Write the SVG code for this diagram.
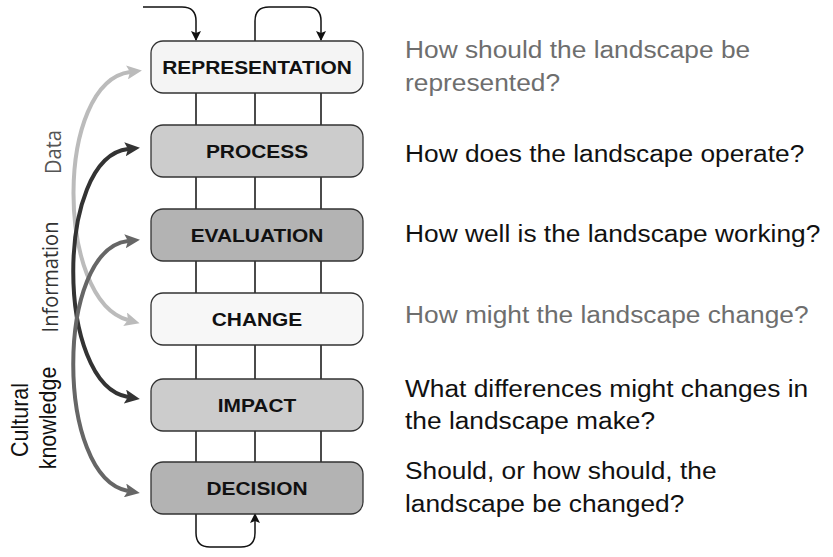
<svg xmlns="http://www.w3.org/2000/svg" width="833" height="557" viewBox="0 0 833 557">
<style>
.box{stroke:#333;stroke-width:1.3}
.bl{font-family:"Liberation Sans",Arial,sans-serif;font-weight:bold;font-size:19px;fill:#111;text-anchor:middle}
.q{font-family:"Liberation Sans",Arial,sans-serif;font-size:23.5px}
.dk{fill:#111}
.gy{fill:#6e6e6e}
.side{font-family:"Open Sans",sans-serif;font-size:20px;text-anchor:middle}
.cult{font-family:"Liberation Sans",Arial,sans-serif;font-size:21.5px;fill:#111;text-anchor:middle}
.link{fill:none;stroke:#111;stroke-width:1.5}
.curve{fill:none;stroke-width:4}
</style>
<defs>
<marker id="blk" markerUnits="userSpaceOnUse" markerWidth="10" markerHeight="11" refX="9" refY="5" orient="auto">
<path d="M0,0 L10,5 L0,10 L2,5 z" fill="#111"/>
</marker>
<marker id="aLight" markerUnits="userSpaceOnUse" markerWidth="16" markerHeight="14" refX="3" refY="7" orient="auto-start-reverse">
<path d="M0,0 L15,7 L0,14 L3,7 z" fill="#bbb"/>
</marker>
<marker id="aDark" markerUnits="userSpaceOnUse" markerWidth="16" markerHeight="14" refX="3" refY="7" orient="auto-start-reverse">
<path d="M0,0 L15,7 L0,14 L3,7 z" fill="#333"/>
</marker>
<marker id="aMid" markerUnits="userSpaceOnUse" markerWidth="16" markerHeight="14" refX="3" refY="7" orient="auto-start-reverse">
<path d="M0,0 L15,7 L0,14 L3,7 z" fill="#666"/>
</marker>
</defs>
<g id="connectors">
<path class="link" d="M196,93 V125 M255,93 V125 M321,93 V125"/>
<path class="link" d="M196,177 V209 M255,177 V209 M321,177 V209"/>
<path class="link" d="M196,261 V293 M255,261 V293 M321,261 V293"/>
<path class="link" d="M196,345 V379 M255,345 V379 M321,345 V379"/>
<path class="link" d="M196,431 V462 M255,431 V462 M321,431 V462"/>
<path class="link" d="M143,7 H182 Q196,7 196,21 V40" marker-end="url(#blk)"/>
<path class="link" d="M255,41 V21 Q255,7 269,7 H307 Q321,7 321,21 V40" marker-end="url(#blk)"/>
<path class="link" d="M196,514 V533 Q196,547 210,547 H241 Q255,547 255,533 V514" marker-end="url(#blk)"/>
<path class="curve" stroke="#bbb" d="M130,72 C55,82 55,300 128,320" marker-start="url(#aLight)" marker-end="url(#aLight)"/>
<path class="curve" stroke="#333" d="M128,149 C55,157 55,385 128,397" marker-start="url(#aDark)" marker-end="url(#aDark)"/>
<path class="curve" stroke="#666" d="M128,241 C55,249 55,478 128,491" marker-start="url(#aMid)" marker-end="url(#aMid)"/>
</g>
<g id="representation">
<rect class="box" x="151" y="41" width="212" height="52" rx="12" fill="#f4f4f4"/>
<text class="bl" transform="translate(257,73.5) scale(1.1,1)">REPRESENTATION</text>
</g>
<g id="process">
<rect class="box" x="151" y="125" width="212" height="52" rx="12" fill="#cccccc"/>
<text class="bl" transform="translate(257,157.5) scale(1.1,1)">PROCESS</text>
</g>
<g id="evaluation">
<rect class="box" x="151" y="209" width="212" height="52" rx="12" fill="#b3b3b3"/>
<text class="bl" transform="translate(257,241.5) scale(1.1,1)">EVALUATION</text>
</g>
<g id="change">
<rect class="box" x="151" y="293" width="212" height="52" rx="12" fill="#f7f7f7"/>
<text class="bl" transform="translate(257,325.5) scale(1.1,1)">CHANGE</text>
</g>
<g id="impact">
<rect class="box" x="151" y="379" width="212" height="52" rx="12" fill="#cccccc"/>
<text class="bl" transform="translate(257,411.5) scale(1.1,1)">IMPACT</text>
</g>
<g id="decision">
<rect class="box" x="151" y="462" width="212" height="52" rx="12" fill="#b3b3b3"/>
<text class="bl" transform="translate(257,494.5) scale(1.1,1)">DECISION</text>
</g>
<g id="questions">
<text class="q gy" transform="translate(405,58) scale(1.12,1)"><tspan x="0">How should the landscape be</tspan><tspan x="0" dy="33">represented?</tspan></text>
<text class="q dk" transform="translate(405,162) scale(1.12,1)">How does the landscape operate?</text>
<text class="q dk" transform="translate(405,242) scale(1.12,1)">How well is the landscape working?</text>
<text class="q gy" transform="translate(405,323) scale(1.12,1)">How might the landscape change?</text>
<text class="q dk" transform="translate(405,397) scale(1.12,1)"><tspan x="0">What differences might changes in</tspan><tspan x="0" dy="32">the landscape make?</tspan></text>
<text class="q dk" transform="translate(405,479) scale(1.12,1)"><tspan x="0">Should, or how should, the</tspan><tspan x="0" dy="33">landscape be changed?</tspan></text>
</g>
<g id="side-labels">
<text class="side" fill="#555" transform="translate(61,152) scale(1.12,1) rotate(-90)">Data</text>
<text class="side" fill="#333" transform="translate(58,277) scale(1.12,1) rotate(-90)">Information</text>
<text class="cult" transform="translate(28,420) scale(1.12,1) rotate(-90)">Cultural</text>
<text class="cult" transform="translate(56,418) scale(1.12,1) rotate(-90)">knowledge</text>
</g>
</svg>
